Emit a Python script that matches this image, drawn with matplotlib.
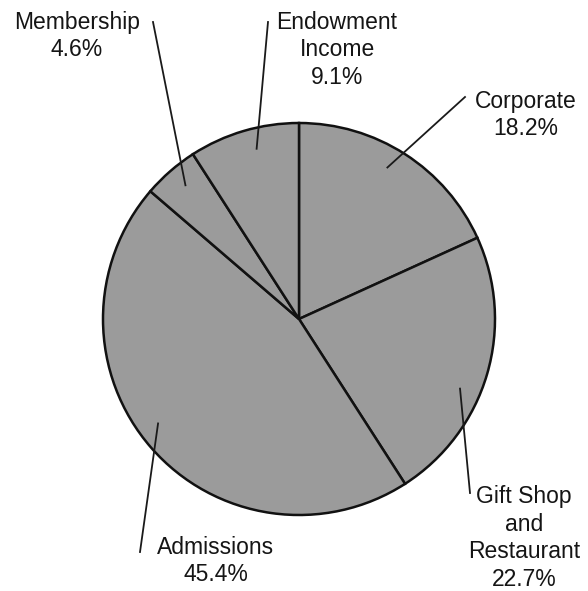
import matplotlib
matplotlib.use('Agg')
import matplotlib.pyplot as plt
import numpy as np

# data
labels = ['Corporate', 'Gift Shop\nand\nRestaurant', 'Admissions', 'Membership', 'Endowment\nIncome']
shares = [18.2, 22.7, 45.4, 4.6, 9.1]

W, H = 588, 591
cx, cy, R = 299, H - 319, 196

# label placement (pixel coords, y from top)
text_pos = [(526, 115), (524, 538), (216, 561), (77, 36), (337, 50)]
line_end = [(465, 97), (470, 493), (140, 552), (153, 22), (268, 22)]
angle_shift = [2.5, -7, -4.5, -0.7, -2.4]

fig = plt.figure(figsize=(W / 100, H / 100), dpi=100)
ax = fig.add_axes([0, 0, 1, 1])
ax.set_xlim(0, W)
ax.set_ylim(0, H)
ax.axis('off')

wedges, _ = ax.pie(shares, startangle=90, counterclock=False, center=(cx, cy), radius=R,
                   colors=['#9b9b9b'] * len(shares),
                   wedgeprops=dict(edgecolor='#111111', linewidth=1.8))
ax.set_xlim(0, W)
ax.set_ylim(0, H)
ax.set_aspect('equal')

for i, w in enumerate(wedges):
    mid = np.deg2rad((w.theta1 + w.theta2) / 2 + angle_shift[i])
    x0 = cx + 0.895 * R * np.cos(mid)
    y0 = cy + 0.895 * R * np.sin(mid)
    ex, ey = line_end[i]
    ax.plot([x0, ex], [y0, H - ey], color='#1a1a1a', lw=1.3)
    tx, ty = text_pos[i]
    ax.text(tx, H - ty, labels[i] + '\n' + f'{shares[i]:.1f}%', ha='center', va='center',
            fontsize=16.5, family='Liberation Sans', color='#151515', linespacing=1.27)

plt.savefig('out.png', dpi=100)
